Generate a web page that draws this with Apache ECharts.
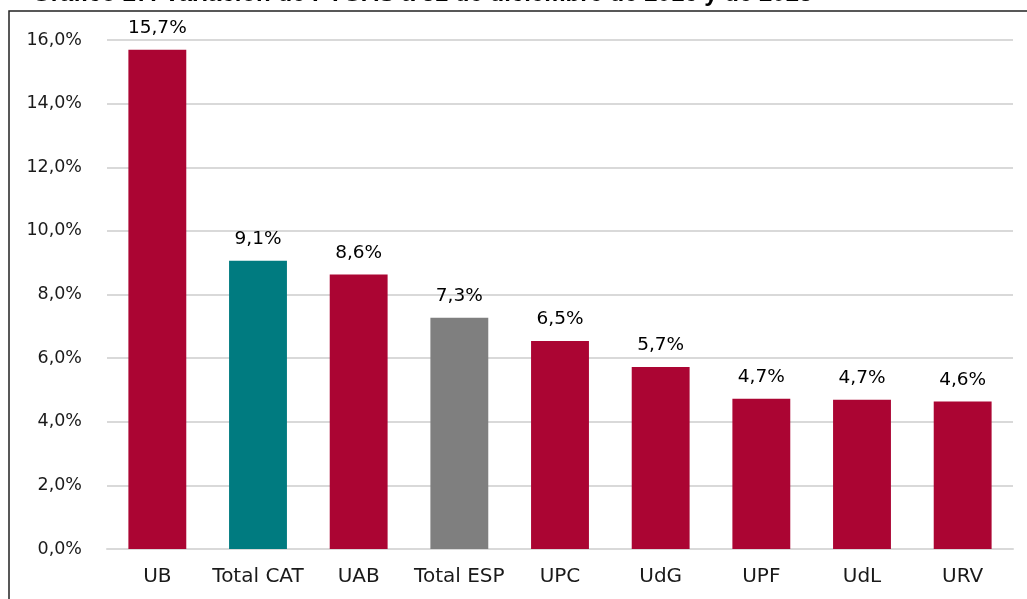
<!DOCTYPE html>
<html>
<head>
<meta charset="utf-8">
<script src="https://cdn.jsdelivr.net/npm/echarts@6/dist/echarts.min.js"></script>
<style>
  html, body { margin: 0; padding: 0; background: #fff; }
  #chart { width: 1027px; height: 599px; }
</style>
</head>
<body>
<div id="chart"></div>
<script>
// datos
var categories = ['UB', 'Total CAT', 'UAB', 'Total ESP', 'UPC', 'UdG', 'UPF', 'UdL', 'URV']
var values = [15.69, 9.06, 8.63, 7.27, 6.54, 5.72, 4.72, 4.69, 4.64]
var barColors = ['#ab0533', '#007b80', '#ab0533', '#7f7f7f', '#ab0533', '#ab0533', '#ab0533', '#ab0533', '#ab0533']
var yTicks = [0, 2, 4, 6, 8, 10, 12, 14, 16]

var fmt = function (v) { return v.toFixed(1).replace('.', ',') + '%' }

var chart = echarts.init(document.getElementById('chart'))
chart.setOption({
  animation: false,
  textStyle: { fontFamily: '"DejaVu Sans", sans-serif' },
  graphic: [
    {
      type: 'rect',
      shape: { x: 9, y: 11, width: 1100, height: 700 },
      style: { fill: 'none', stroke: '#222', lineWidth: 1.5 },
      silent: true
    },
    {
      type: 'text',
      left: 32,
      top: -18,
      style: {
        text: 'Gráfico 27: Variación de PTGAS a 31 de diciembre de 2016 y de 2023',
        font: 'bold 24px "Liberation Sans", Arial, sans-serif',
        fill: '#000'
      },
      silent: true
    }
  ],
  grid: { left: 107, right: 14, top: 40, bottom: 50 },
  xAxis: {
    type: 'category',
    data: categories,
    axisLine: { lineStyle: { color: '#d9d9d9', width: 2 } },
    axisTick: { show: false },
    axisLabel: { color: '#1a1a1a', fontSize: 20, margin: 18, interval: 0 }
  },
  yAxis: {
    type: 'value',
    min: yTicks[0],
    max: yTicks[yTicks.length - 1],
    interval: 2,
    axisLine: { show: false },
    axisTick: { show: false },
    splitLine: { lineStyle: { color: '#d9d9d9', width: 2 } },
    axisLabel: {
      color: '#1a1a1a',
      fontSize: 17.5,
      margin: 25,
      formatter: function (v) { return fmt(v) }
    }
  },
  series: [
    {
      type: 'bar',
      barWidth: '57.5%',
      data: values.map(function (v, i) {
        return { value: v, itemStyle: { color: barColors[i] } }
      }),
      label: {
        show: true,
        position: 'top',
        distance: 12,
        color: '#000',
        fontSize: 18.5,
        formatter: function (p) { return fmt(p.value) }
      }
    }
  ]
})
window.addEventListener('resize', chart.resize)
</script>
</body>
</html>
